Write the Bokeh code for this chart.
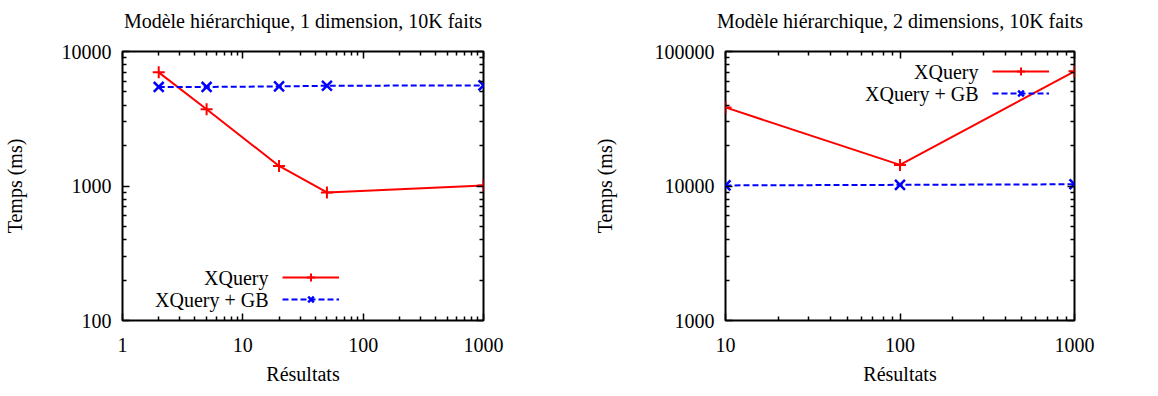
from bokeh.plotting import figure
from bokeh.models import (Range1d, FixedTicker, LogAxis, Legend, LegendItem, Label)
from bokeh.layouts import row
from bokeh.embed import file_html
from bokeh.resources import INLINE

# ---- data ----
left_title = "Modèle hiérarchique, 1 dimension, 10K faits"
right_title = "Modèle hiérarchique, 2 dimensions, 10K faits"
x_label = "Résultats"
y_label = "Temps (ms)"
series_names = ["XQuery", "XQuery + GB"]

left_x = [2, 5, 20, 50, 1000]
left_xquery = [7000, 3720, 1410, 895, 1010]
left_xquery_gb = [5450, 5450, 5500, 5560, 5600]

right_x = [10, 100, 1000]
right_xquery = [38400, 14350, 71300]
right_xquery_gb = [10100, 10200, 10300]

left_xticks = [1, 10, 100, 1000]
left_yticks = [100, 1000, 10000]
right_xticks = [10, 100, 1000]
right_yticks = [1000, 10000, 100000]

FONT = "Liberation Serif"
FS = "20px"
RED = "#ff0000"
BLUE = "#0000ff"
FRAME_H = 269


def minors(majors):
    out = []
    for m in majors[:-1]:
        out += [m * k for k in range(2, 10)]
    return out


def style_axis(ax, show_labels):
    ax.axis_line_color = None
    ax.major_tick_in = 7
    ax.major_tick_out = 0
    ax.minor_tick_in = 4
    ax.minor_tick_out = 0
    ax.major_tick_line_color = "black"
    ax.minor_tick_line_color = "black"
    ax.major_tick_line_width = 1.5
    ax.minor_tick_line_width = 1.5
    ax.axis_label_text_font = FONT
    ax.axis_label_text_font_size = FS
    ax.axis_label_text_font_style = "normal"
    ax.axis_label_text_color = "black"
    if show_labels:
        ax.major_label_text_font = FONT
        ax.major_label_text_font_size = FS
        ax.major_label_text_color = "black"
    else:
        ax.major_label_text_font_size = "2px"
        ax.major_label_text_color = None
        ax.major_label_standoff = 0


def make_plot(title, xs, yq, yg, xticks, yticks, frame_w, borders, ylab_standoff,
              legend_pos, text_pos):
    bl, br = borders
    p = figure(frame_width=frame_w, frame_height=FRAME_H,
               x_axis_type="log", y_axis_type="log",
               x_range=Range1d(xticks[0], xticks[-1]),
               y_range=Range1d(yticks[0], yticks[-1]),
               output_backend="svg", toolbar_location=None,
               min_border_left=bl, min_border_right=br,
               min_border_top=51, min_border_bottom=60)
    p.title = None
    p.grid.visible = False
    p.outline_line_color = "black"
    p.outline_line_width = 2
    p.background_fill_color = "white"
    p.border_fill_color = "white"

    xt = FixedTicker(ticks=xticks, minor_ticks=minors(xticks))
    yt = FixedTicker(ticks=yticks, minor_ticks=minors(yticks))

    p.xaxis.ticker = xt
    p.yaxis.ticker = yt
    p.xaxis.major_label_overrides = {t: str(t) for t in xticks}
    p.yaxis.major_label_overrides = {t: str(t) for t in yticks}
    p.xaxis.axis_label = x_label
    p.yaxis.axis_label = y_label
    for ax in p.xaxis:
        style_axis(ax, True)
        ax.major_label_standoff = 17
        ax.axis_label_standoff = 8
    for ax in p.yaxis:
        style_axis(ax, True)
        ax.major_label_standoff = 11
        ax.axis_label_standoff = ylab_standoff

    # mirrored top axis (ticks only); its axis label carries the chart title
    top = LogAxis(ticker=xt)
    style_axis(top, False)
    top.axis_label = title
    top.axis_label_standoff = 20
    p.add_layout(top, "above")
    right = LogAxis(ticker=yt)
    style_axis(right, False)
    p.add_layout(right, "right")

    l1 = p.line(xs, yq, line_color=RED, line_width=2)
    m1 = p.scatter(xs, yq, marker="cross", size=12, line_color=RED, line_width=2)
    l2 = p.line(xs, yg, line_color=BLUE, line_width=2, line_dash="6 3")
    m2 = p.scatter(xs, yg, marker="x", size=14, line_color=BLUE, line_width=2.5)

    leg = Legend(items=[LegendItem(label=" ", renderers=[l1, m1]),
                        LegendItem(label=" ", renderers=[l2, m2])],
                 location=legend_pos, glyph_width=57, glyph_height=20,
                 label_standoff=0, label_height=20,
                 label_text_font_size="10px", spacing=2, padding=0, margin=0,
                 border_line_color=None, background_fill_alpha=0)
    p.add_layout(leg, "center")

    tx, ty1, ty2 = text_pos
    for name, ty in zip(series_names, [ty1, ty2]):
        p.add_layout(Label(x=tx, y=ty, x_units="screen", y_units="screen",
                           text=name, text_align="right", text_baseline="middle",
                           text_font=FONT, text_font_size=FS, text_color="black"))
    return p


p1 = make_plot(left_title, left_x, left_xquery, left_xquery_gb,
               left_xticks, left_yticks, 361, (118, 92), 33,
               (160, 11), (146, 43, 21))
p2 = make_plot(right_title, right_x, right_xquery, right_xquery_gb,
               right_xticks, right_yticks, 349, (150, 72), 36,
               (267, 217), (253, 249, 227))

layout = row(p1, p2)
open("out.html", "w").write(file_html(layout, INLINE))
